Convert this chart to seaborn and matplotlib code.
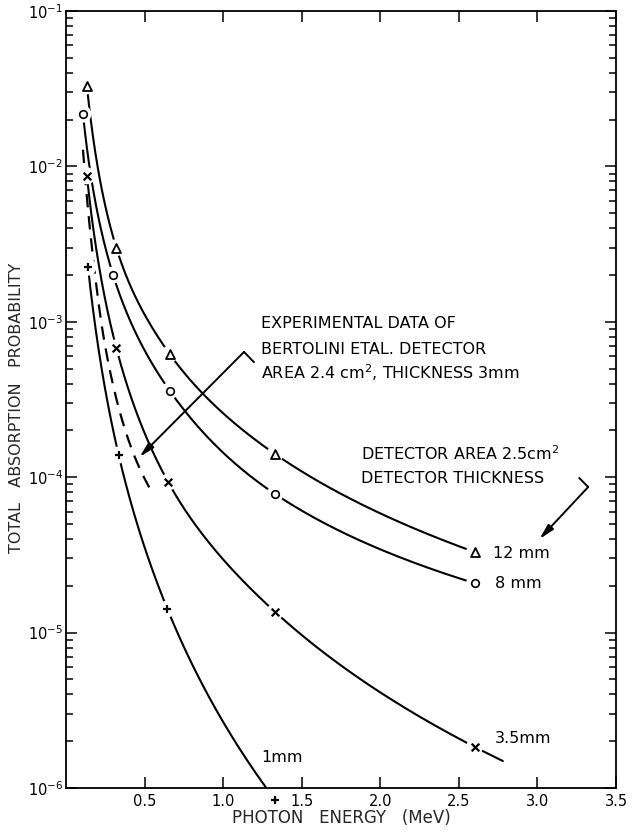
import numpy as np
import pandas as pd
import matplotlib
matplotlib.use("Agg")
import matplotlib.pyplot as plt
from matplotlib.ticker import LogLocator, NullFormatter
import seaborn as sns

# Calculated absorption probability for a 2.5 cm^2 detector, by thickness
energy_12mm = [0.133, 0.32, 0.66, 1.33, 2.6]
prob_12mm = [3.3e-2, 3.0e-3, 6.2e-4, 1.41e-4, 3.3e-5]

energy_8mm = [0.108, 0.30, 0.66, 1.33, 2.6]
prob_8mm = [2.17e-2, 2.0e-3, 3.6e-4, 7.8e-5, 2.08e-5]

energy_3p5mm = [0.133, 0.32, 0.65, 1.33, 2.6]
prob_3p5mm = [8.7e-3, 6.8e-4, 9.3e-5, 1.36e-5, 1.84e-6]

energy_1mm = [0.14, 0.335, 0.645, 1.33]
prob_1mm = [2.25e-3, 1.39e-4, 1.42e-5, 8.4e-7]

# Experimental curve (Bertolini et al., 2.4 cm^2, 3 mm)
energy_exp = [0.108, 0.165, 0.25, 0.42, 0.53]
prob_exp = [1.28e-2, 3.0e-3, 6.9e-4, 1.5e-4, 8.6e-5]

thickness_labels = ["12 mm", "8 mm", "3.5mm", "1mm"]
xtick_values = [0.5, 1.0, 1.5, 2.0, 2.5, 3.0, 3.5]
xtick_labels = ["0.5", "1.0", "1.5", "2.0", "2.5", "3.0", "3.5"]


def pchip_slopes(x, y):
    h = np.diff(x)
    d = np.diff(y) / h
    n = len(x)
    m = np.zeros(n)
    for k in range(1, n - 1):
        if d[k - 1] * d[k] > 0:
            w1 = 2 * h[k] + h[k - 1]
            w2 = h[k] + 2 * h[k - 1]
            m[k] = (w1 + w2) / (w1 / d[k - 1] + w2 / d[k])

    def end(h0, h1, d0, d1):
        s = ((2 * h0 + h1) * d0 - h0 * d1) / (h0 + h1)
        if np.sign(s) != np.sign(d0):
            s = 0.0
        elif np.sign(d0) != np.sign(d1) and abs(s) > abs(3 * d0):
            s = 3 * d0
        return s

    if n > 2:
        m[0] = end(h[0], h[1], d[0], d[1])
        m[-1] = end(h[-1], h[-2], d[-1], d[-2])
    else:
        m[:] = d[0]
    return m


def smooth_curve(xs, ys, x_end=None, n=300):
    """Monotone cubic through the points in log-log space."""
    lx = np.log10(xs)
    ly = np.log10(ys)
    m = pchip_slopes(lx, ly)
    q = np.linspace(lx[0], lx[-1], n)
    out = np.empty_like(q)
    idx = np.clip(np.searchsorted(lx, q) - 1, 0, len(lx) - 2)
    for i, (qq, k) in enumerate(zip(q, idx)):
        h = lx[k + 1] - lx[k]
        t = (qq - lx[k]) / h
        h00 = 2 * t**3 - 3 * t**2 + 1
        h10 = t**3 - 2 * t**2 + t
        h01 = -2 * t**3 + 3 * t**2
        h11 = t**3 - t**2
        out[i] = h00 * ly[k] + h10 * h * m[k] + h01 * ly[k + 1] + h11 * h * m[k + 1]
    if x_end is not None:
        qe = np.linspace(lx[-1], np.log10(x_end), 30)[1:]
        q = np.concatenate([q, qe])
        out = np.concatenate([out, ly[-1] + m[-1] * (qe - lx[-1])])
    return pd.DataFrame({"energy": 10**q, "prob": 10**out})


sns.set_style("ticks")
plt.rcParams["font.family"] = ["DejaVu Sans"]
plt.rcParams["mathtext.fontset"] = "dejavusans"

fig = plt.figure(figsize=(6.43, 8.32), dpi=100)
ax = fig.add_axes([66 / 643, 44 / 832, 550 / 643, 777 / 832])

series = [
    (energy_12mm, prob_12mm, "^", None),
    (energy_8mm, prob_8mm, "o", None),
    (energy_3p5mm, prob_3p5mm, "x", 2.78),
    (energy_1mm, prob_1mm, "+", None),
]

for xs, ys, mk, xe in series:
    curve = smooth_curve(xs, ys, x_end=xe)
    sns.lineplot(data=curve, x="energy", y="prob", sort=False, estimator=None,
                 color="black", lw=1.5, ax=ax, zorder=2)

exp_curve = smooth_curve(energy_exp, prob_exp)
sns.lineplot(data=exp_curve, x="energy", y="prob", sort=False, estimator=None,
             color="black", lw=1.6, ax=ax, zorder=2, linestyle=(0, (6, 4)))

# markers with a white halo that breaks the curve around them
marker_style = {"^": dict(s=42, lw=1.3), "o": dict(s=30, lw=1.2),
                "x": dict(s=30, lw=1.6), "+": dict(s=36, lw=1.6)}
for xs, ys, mk, _ in series:
    ax.scatter(xs, ys, s=150, marker="o", color="white", edgecolors="none",
               zorder=3, clip_on=False)
    st = marker_style[mk]
    if mk in ("^", "o"):
        ax.scatter(xs, ys, s=st["s"], marker=mk, facecolors="white",
                   edgecolors="black", linewidths=st["lw"], zorder=4, clip_on=False)
    else:
        ax.scatter(xs, ys, s=st["s"], marker=mk, color="black",
                   linewidths=st["lw"], zorder=4, clip_on=False)

ax.set_yscale("log")
ax.set_xlim(0, 3.5)
ax.set_ylim(1e-6, 1e-1)
ax.yaxis.set_major_locator(LogLocator(base=10, numticks=10))
ax.yaxis.set_minor_locator(LogLocator(base=10, subs=np.arange(2, 10), numticks=10))
ax.yaxis.set_minor_formatter(NullFormatter())
ax.set_xticks(xtick_values)
ax.set_xticklabels(xtick_labels)
ax.set_xlabel("")
ax.set_ylabel("")
ax.tick_params(which="both", direction="in", top=True, right=True, width=1.1,
               colors="black", pad=4)
ax.tick_params(axis="x", labelsize=10.5)
ax.tick_params(axis="y", labelsize=10.5, pad=2)
ax.tick_params(which="major", length=8)
ax.tick_params(which="minor", length=5)
for sp in ax.spines.values():
    sp.set_linewidth(1.3)
    sp.set_color("black")

fig.text(17 / 643, 1 - 408 / 832, "TOTAL   ABSORPTION   PROBABILITY",
         rotation=90, ha="center", va="center", fontsize=11.5)
fig.text(341 / 643, 1 - 818 / 832, "PHOTON   ENERGY   (MeV)",
         ha="center", va="center", fontsize=12)

# experimental-data note and its pointer
txt = dict(fontsize=11.5, ha="left", va="center", color="black")
ax.text(1.24, 9.68e-4, "EXPERIMENTAL DATA OF", **txt)
ax.text(1.24, 6.68e-4, "BERTOLINI ETAL. DETECTOR", **txt)
ax.text(1.24, 4.68e-4, r"AREA 2.4 cm$^2$, THICKNESS 3mm", **txt)
ax.plot([1.133, 1.196], [6.4e-4, 5.5e-4], color="black", lw=1.4)
ax.annotate("", xy=(0.468, 1.35e-4), xytext=(1.133, 6.4e-4),
            arrowprops=dict(arrowstyle="-|>,head_length=0.9,head_width=0.22",
                            color="black", lw=1.4, shrinkA=0, shrinkB=0))

# detector note and its pointer
ax.text(1.88, 1.41e-4, r"DETECTOR AREA 2.5cm$^2$", **txt)
ax.text(1.88, 9.88e-5, "DETECTOR THICKNESS", **txt)
ax.plot([3.266, 3.323], [9.88e-5, 8.65e-5], color="black", lw=1.4)
ax.annotate("", xy=(3.013, 4.0e-5), xytext=(3.323, 8.65e-5),
            arrowprops=dict(arrowstyle="-|>,head_length=0.9,head_width=0.22",
                            color="black", lw=1.4, shrinkA=0, shrinkB=0))

# thickness labels
label_pos = [(2.715, 3.25e-5), (2.73, 2.08e-5), (2.73, 2.07e-6), (1.24, 1.58e-6)]
for (lx, ly), lab in zip(label_pos, thickness_labels):
    ax.text(lx, ly, lab, **txt)

fig.savefig("out.png", dpi=100)
